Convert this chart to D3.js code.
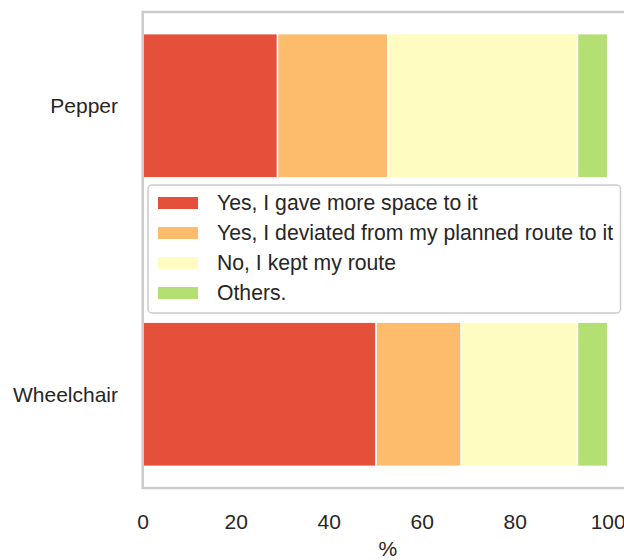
<!DOCTYPE html>
<html>
<head>
<meta charset="utf-8">
<script src="https://cdn.jsdelivr.net/npm/d3@7"></script>
<style>
  body { margin: 0; background: #fff; }
  svg text { font-family: "Liberation Sans", Arial, Helvetica, sans-serif; fill: #262626; }
</style>
</head>
<body>
<div class="viz"></div>
<script>
const categories = ["Pepper", "Wheelchair"];
const answers = ["Yes, I gave more space to it", "Yes, I deviated from my planned route to it", "No, I kept my route", "Others."];
const colors = ["#e5503a", "#fdbb6c", "#fefcc0", "#b4df72"];
// percent per answer, one array per category
const pepperVals = [29.0, 23.7, 40.8, 6.5];
const wheelchairVals = [50.2, 18.3, 25.0, 6.5];
const xTicks = [0, 20, 40, 60, 80, 100];

const width = 624;
const height = 560;

const svg = d3.select('.viz').append('svg')
  .attr('width', width)
  .attr('height', height);

// x domain runs past 100 so the right spine falls off the picture
const x = d3.scaleLinear().domain([0, 105.4]).range([142.7, 632.8]);
const y = d3.scaleLinear().domain([-0.325, 1.325]).range([12, 488]);
const barH = y(0.5) - y(0);

const rows = [pepperVals, wheelchairVals].map((vals, i) => {
  let acc = 0;
  return vals.map((v, j) => {
    const seg = { cat: i, k: j, x0: acc, x1: acc + v };
    acc += v;
    return seg;
  });
}).flat();

svg.selectAll('rect.bar')
  .data(rows)
  .join('rect')
  .attr('class', 'bar')
  .attr('x', d => x(d.x0))
  .attr('width', d => x(d.x1) - x(d.x0))
  .attr('y', d => y(d.cat) - barH / 2)
  .attr('height', barH)
  .attr('fill', d => colors[d.k])
  .attr('stroke', '#fff')
  .attr('stroke-width', 1.5);

// frame
svg.append('rect')
  .attr('x', x(0))
  .attr('y', y(-0.325))
  .attr('width', x(105.4) - x(0))
  .attr('height', y(1.325) - y(-0.325))
  .attr('fill', 'none')
  .attr('stroke', '#cccccc')
  .attr('stroke-width', 2.5);

// y labels
svg.selectAll('text.ylab')
  .data(categories)
  .join('text')
  .attr('class', 'ylab')
  .attr('x', 118)
  .attr('y', (d, i) => y(i))
  .attr('dy', '0.35em')
  .attr('text-anchor', 'end')
  .attr('font-size', 21)
  .text(d => d);

// x axis
const xAxis = d3.axisBottom(x).tickValues(xTicks).tickSize(0).tickPadding(0);
const gx = svg.append('g')
  .attr('transform', 'translate(0,' + 514 + ')')
  .call(xAxis);
gx.select('.domain').remove();
gx.selectAll('text')
  .attr('font-size', 21)
  .attr('dy', '0.71em')
  .attr('fill', '#262626')
  .style('font-family', '"Liberation Sans", Arial, sans-serif');

svg.append('text')
  .attr('x', x(52.7))
  .attr('y', 556)
  .attr('text-anchor', 'middle')
  .attr('font-size', 21)
  .text('%');

// legend
const legend = svg.append('g');
legend.append('rect')
  .attr('x', 148)
  .attr('y', 185)
  .attr('width', 472.5)
  .attr('height', 128)
  .attr('rx', 4)
  .attr('fill', '#fff')
  .attr('fill-opacity', 0.9)
  .attr('stroke', '#cccccc')
  .attr('stroke-width', 1.5);

const items = legend.selectAll('g.item')
  .data(answers)
  .join('g')
  .attr('class', 'item')
  .attr('transform', (d, i) => 'translate(158,' + (203 + i * 30) + ')');

items.append('rect')
  .attr('x', 0)
  .attr('y', -6)
  .attr('width', 40)
  .attr('height', 12)
  .attr('fill', (d, i) => colors[i]);

items.append('text')
  .attr('x', 59)
  .attr('y', 0)
  .attr('dy', '0.35em')
  .attr('font-size', 21.2)
  .text(d => d);
</script>
</body>
</html>
